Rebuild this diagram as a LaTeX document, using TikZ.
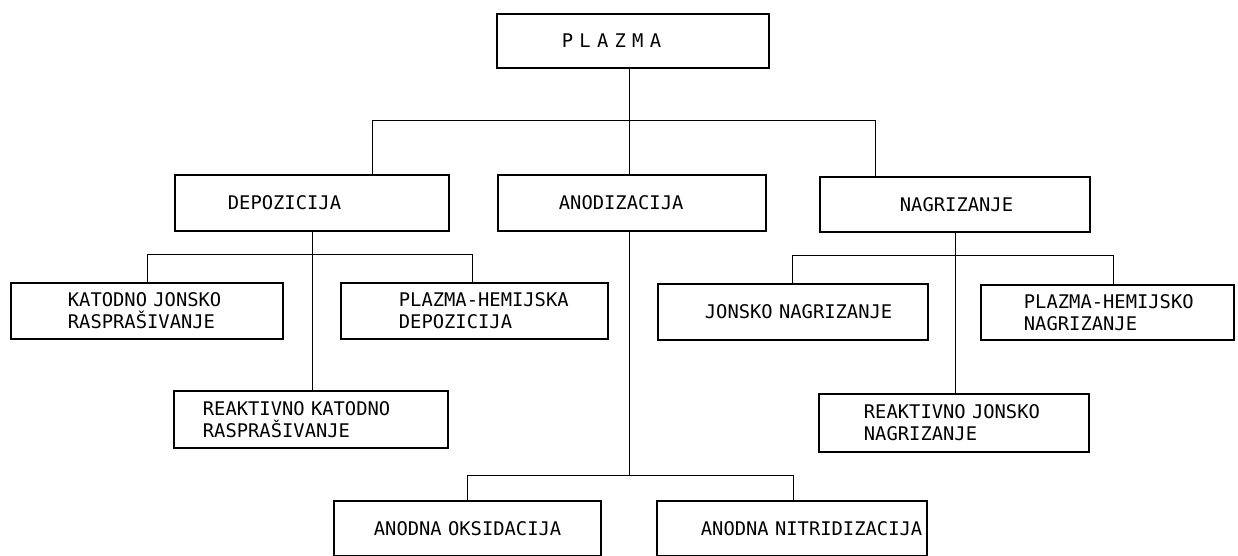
\documentclass[tikz,border=0pt]{standalone}
\usepackage{fontspec}
\newfontfamily\typefont{DejaVu Sans Mono}
\usepackage{tikz}
\usetikzlibrary{positioning}

% left indent of the typed text inside a box
\newcommand{\lpad}[1]{\hspace*{#1pt}}

\tikzset{
    box/.style={draw, line width=1.8pt, rectangle, anchor=north west,
        align=left, inner xsep=0pt, inner ysep=0pt,
        font=\typefont\fontsize{18.8}{22}\selectfont},
    link/.style={line width=1pt},
}

\begin{document}
\begin{tikzpicture}[x=1pt,y=-1pt]
    \path[use as bounding box, fill=white] (0,0) rectangle (1238,556);

    % top
    \node[box, text width=272pt, minimum height=54pt] (plazma) at (496,13) {\lpad{65}P L A Z M A};

    % second level
    \node[box, text width=274pt, minimum height=56pt] (dep) at (174,174) {\lpad{53}DEPOZICIJA};
    \node[box, text width=268pt, minimum height=56pt] (anod) at (497,174) {\lpad{61}ANODIZACIJA};
    \node[box, text width=270pt, minimum height=55pt] (nag) at (819,176) {\lpad{80}NAGRIZANJE};

    % under depozicija
    \node[box, text width=272pt, minimum height=56pt] (kat) at (10,282)
        {\lpad{57}KATODNO JONSKO\\\lpad{57}RASPRAŠIVANJE};
    \node[box, text width=267pt, minimum height=56pt] (phd) at (340,282)
        {\lpad{58}PLAZMA-HEMIJSKA\\\lpad{58}DEPOZICIJA};
    \node[box, text width=274pt, minimum height=57pt] (rkat) at (173,390)
        {\lpad{29}REAKTIVNO KATODNO\\\lpad{29}RASPRAŠIVANJE};

    % under nagrizanje
    \node[box, text width=270pt, minimum height=56pt] (jon) at (657,283) {\lpad{47}JONSKO NAGRIZANJE};
    \node[box, text width=253pt, minimum height=55pt] (phn) at (980,284)
        {\lpad{43}PLAZMA-HEMIJSKO\\\lpad{43}NAGRIZANJE};
    \node[box, text width=270pt, minimum height=58pt] (rjon) at (818,393)
        {\lpad{45}REAKTIVNO JONSKO\\\lpad{45}NAGRIZANJE};

    % under anodizacija
    \node[box, text width=267pt, minimum height=55pt] (oks) at (333,500) {\lpad{40}ANODNA OKSIDACIJA};
    \node[box, text width=270pt, minimum height=55pt] (nit) at (656,500) {\lpad{44}ANODNA~NITRIDIZACIJA};

    % bus points
    \coordinate (bM) at (629,121);
    \coordinate (bA) at (372,121);
    \coordinate (bB) at (875,121);
    \coordinate (dM) at (312,254);
    \coordinate (dA) at (147,254);
    \coordinate (dB) at (472,254);
    \coordinate (nM) at (955,255);
    \coordinate (nA) at (792,255);
    \coordinate (nB) at (1113,255);
    \coordinate (aM) at (629,475);
    \coordinate (aA) at (467,475);
    \coordinate (aB) at (793,475);

    \draw[link] (plazma.south -| bM) -- (anod.north -| bM);
    \draw[link] (dep.north -| bA) -- (bA) -- (bB) -- (nag.north -| bB);

    \draw[link] (dep.south -| dM) -- (rkat.north -| dM);
    \draw[link] (kat.north -| dA) -- (dA) -- (dB) -- (phd.north -| dB);

    \draw[link] (nag.south -| nM) -- (rjon.north -| nM);
    \draw[link] (jon.north -| nA) -- (nA) -- (nB) -- (phn.north -| nB);

    \draw[link] (anod.south -| aM) -- (aM);
    \draw[link] (oks.north -| aA) -- (aA) -- (aB) -- (nit.north -| aB);
\end{tikzpicture}
\end{document}
